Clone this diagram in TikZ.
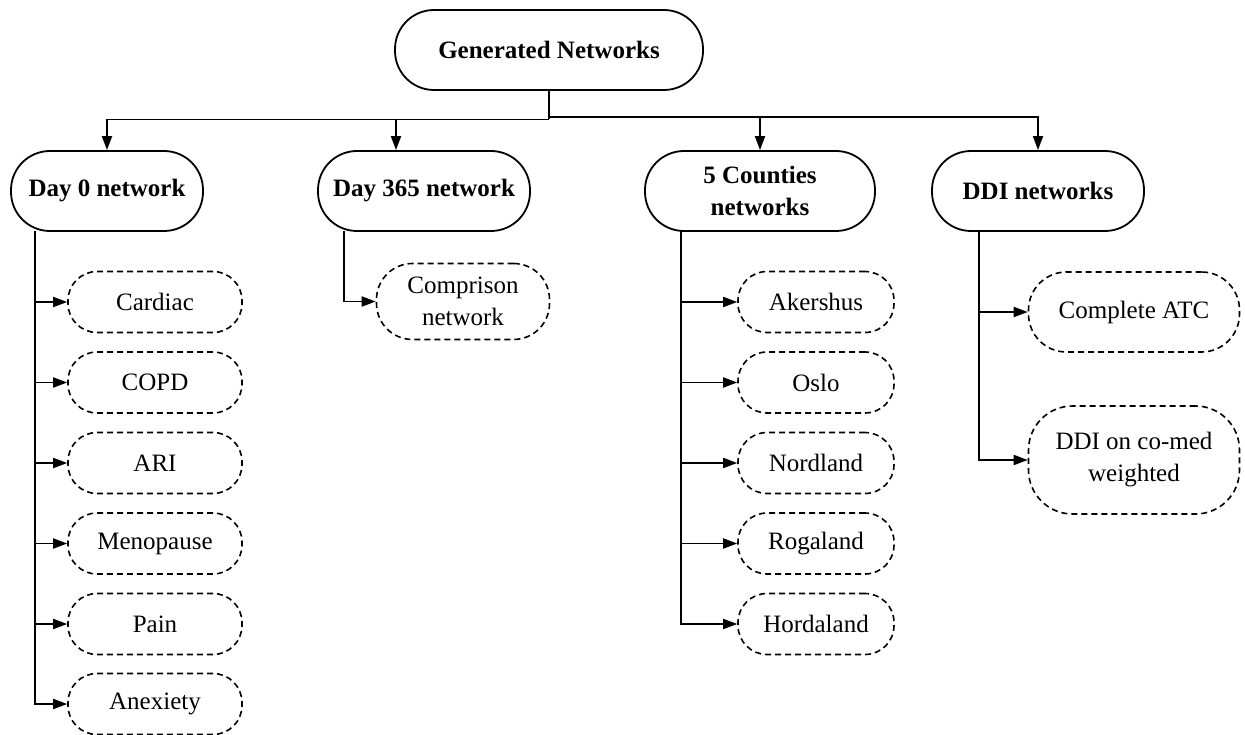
\documentclass[tikz,border=0pt]{standalone}
\usepackage{fontspec}
\setmainfont{Liberation Serif}
\usetikzlibrary{arrows.meta}
\tikzset{
  mainbox/.style={draw, line width=1.8pt, rectangle, rounded corners=39pt, inner sep=0pt,
    align=center, font=\fontsize{25}{32}\selectfont\bfseries, minimum height=80pt},
  subbox/.style={draw, line width=1.6pt, dash pattern=on 6pt off 4pt, rectangle, rounded corners=29pt,
    inner sep=0pt, align=center, font=\fontsize{25}{32}\selectfont, minimum height=61pt},
  link/.style={line width=1.8pt},
  arr/.style={line width=1.8pt, -{Triangle[length=14pt,width=10pt]}},
}
\begin{document}
\begin{tikzpicture}[x=1pt,y=-1pt]
\useasboundingbox (0,0) rectangle (1245,735);
% top
\node[mainbox, minimum width=308pt] (gen) at (549,50) {Generated Networks};
% level 1
\node[mainbox, minimum width=192pt] (d0) at (107,191) {Day 0 network};
\node[mainbox, minimum width=212pt] (d365) at (424,191) {Day 365 network};
\node[mainbox, minimum width=230pt] (c5) at (760,191) {5 Counties\\networks};
\node[mainbox, minimum width=212pt] (ddi) at (1038,191) {DDI networks};
% Day 0 children
\node[subbox, minimum width=174pt] (card) at (155,302) {Cardiac};
\node[subbox, minimum width=174pt] (copd) at (155,382.5) {COPD};
\node[subbox, minimum width=174pt] (ari) at (155,463) {ARI};
\node[subbox, minimum width=174pt] (meno) at (155,543.5) {Menopause};
\node[subbox, minimum width=174pt] (pain) at (155,624) {Pain};
\node[subbox, minimum width=174pt] (anex) at (155,704) {Anexiety};
% Day 365 child
\node[subbox, minimum width=173pt, minimum height=76pt, rounded corners=36pt] (comp) at (463,301.5) {Comprison\\network};
% 5 Counties children
\node[subbox, minimum width=156pt] (aker) at (816,302) {Akershus};
\node[subbox, minimum width=156pt] (oslo) at (816,382.5) {Oslo};
\node[subbox, minimum width=156pt] (nord) at (816,463) {Nordland};
\node[subbox, minimum width=156pt] (roga) at (816,543.5) {Rogaland};
\node[subbox, minimum width=156pt] (hord) at (816,624) {Hordaland};
% DDI children
\node[subbox, minimum width=211pt, minimum height=80pt, rounded corners=38pt] (catc) at (1134,312) {Complete ATC};
\node[subbox, minimum width=211pt, minimum height=108pt, rounded corners=44pt] (dco) at (1134,460) {DDI on co-med\\weighted};
% junctions
\coordinate (jL) at (549,119.5);
\coordinate (jR) at (549,117);
\coordinate (a365) at (396,119.5);
\coordinate (t0) at (35,231);
\coordinate (t365) at (344,231);
\coordinate (t5) at (681,231);
\coordinate (tD) at (979,231);
% top connectors
\draw[link] (gen.south) -- (jL);
\draw[arr] (jL) -| (d0.north);
\draw[arr] (a365) -- (a365 |- d365.north);
\draw[link] (jL) -- (jR);
\draw[arr] (jR) -| (ddi.north);
\draw[arr] (jR -| c5.north) -- (c5.north);
% Day 0 branch
\draw[arr] (t0) |- (anex.west);
\foreach \n in {card,copd,ari,meno,pain}
  \draw[arr] (\n.west -| t0) -- (\n.west);
% Day 365 branch
\draw[arr] (t365) |- (comp.west);
% 5 Counties branch
\draw[arr] (t5) |- (hord.west);
\foreach \n in {aker,oslo,nord,roga}
  \draw[arr] (\n.west -| t5) -- (\n.west);
% DDI branch
\draw[arr] (tD) |- (dco.west);
\draw[arr] (catc.west -| tD) -- (catc.west);
\end{tikzpicture}
\end{document}
